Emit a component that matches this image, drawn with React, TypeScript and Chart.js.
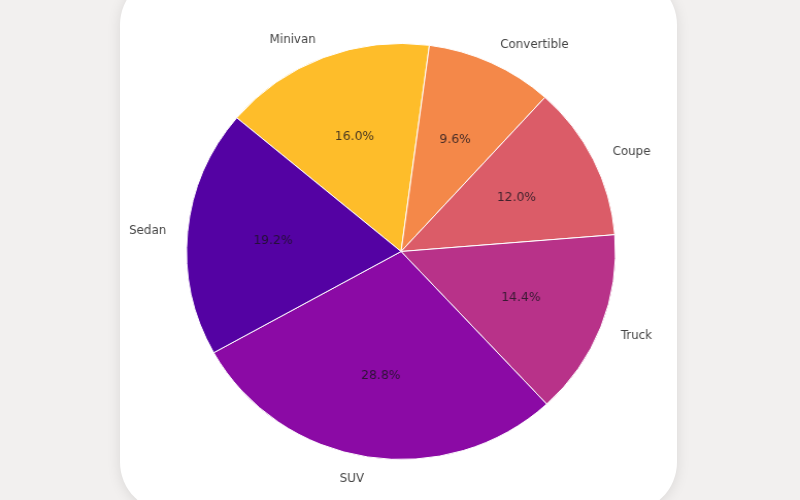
import React, { useEffect, useRef } from "react";
import { Chart, registerables } from "chart.js";

Chart.register(...registerables);

// Data in counter-clockwise order (as in the source chart)
const categories = ["Sedan", "SUV", "Truck", "Coupe", "Convertible", "Minivan"];
const shares = [19.2, 28.8, 14.4, 12.0, 9.6, 16.0];
const sliceColors = ["#5402a3", "#8b0aa5", "#b83289", "#db5c68", "#f48849", "#febd2a"];

const STRETCH = 800 / 776;

const labelPlugin = {
  id: "pieLabels",
  afterDatasetsDraw(chart: any) {
    const ctx = chart.ctx;
    const meta = chart.getDatasetMeta(0);
    const labels = chart.data.labels as string[];
    const values = chart.data.datasets[0].data as number[];
    const total = values.reduce((a, b) => a + b, 0);
    ctx.save();
    meta.data.forEach((arc: any, i: number) => {
      const { x, y, startAngle, endAngle, outerRadius } = arc.getProps(
        ["x", "y", "startAngle", "endAngle", "outerRadius"],
        true
      );
      const mid = (startAngle + endAngle) / 2;
      const c = Math.cos(mid);
      const s = Math.sin(mid);
      // outer category label
      ctx.font = "11.5px 'DejaVu Sans'";
      ctx.fillStyle = "#444444";
      ctx.textBaseline = "middle";
      ctx.textAlign = c < 0 ? "right" : "left";
      ctx.fillText(labels[i], x + c * outerRadius * 1.1, y + s * outerRadius * 1.1 + 1.5);
      // percentage
      ctx.font = "12px 'DejaVu Sans'";
      ctx.fillStyle = "rgba(25,20,30,0.8)";
      ctx.textAlign = "center";
      const pct = ((values[i] / total) * 100).toFixed(1) + "%";
      ctx.fillText(pct, x + c * outerRadius * 0.6, y + s * outerRadius * 0.6 + 1.5);
    });
    ctx.restore();
  },
};

export default function App() {
  const ref = useRef<HTMLCanvasElement | null>(null);

  useEffect(() => {
    if (!ref.current) return;
    // Chart.js draws clockwise; reverse to keep the original counter-clockwise layout
    const labels = [...categories].reverse();
    const data = [...shares].reverse();
    const colors = [...sliceColors].reverse();
    const chart = new Chart(ref.current, {
      type: "pie",
      data: {
        labels,
        datasets: [
          {
            data,
            backgroundColor: colors,
            borderColor: "#ffffff",
            borderWidth: 1,
          },
        ],
      },
      options: {
        responsive: false,
        animation: false,
        rotation: -50,
        layout: { padding: { top: 43, bottom: 40, left: 180, right: 178 } },
        plugins: {
          legend: { display: false },
          tooltip: { enabled: false },
        },
      },
      plugins: [labelPlugin],
    });
    return () => chart.destroy();
  }, []);

  return (
    <div
      style={{
        position: "absolute",
        left: 0,
        top: 0,
        width: 800,
        height: 500,
        overflow: "hidden",
        background: "#f2f0ef",
      }}
    >
      <div
        style={{
          position: "absolute",
          left: 120,
          top: -25,
          width: 557,
          height: 537,
          background: "#ffffff",
          borderRadius: 50,
          boxShadow: "0 2px 14px rgba(0,0,0,0.10)",
        }}
      />
      <div
        style={{
          position: "absolute",
          left: 0,
          top: 0,
          width: 776,
          height: 500,
          transform: `scaleX(${STRETCH})`,
          transformOrigin: "0 0",
        }}
      >
        <canvas ref={ref} width={776} height={500} />
      </div>
    </div>
  );
}
